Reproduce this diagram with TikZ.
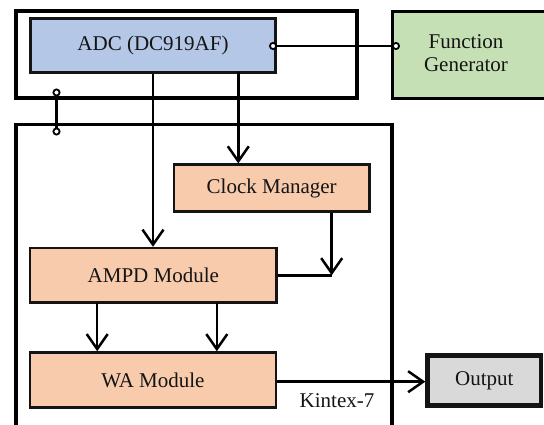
\documentclass[tikz,border=0pt]{standalone}
\usepackage{fontspec}
\setmainfont{Liberation Serif}
\usetikzlibrary{arrows.meta}

\definecolor{adcblue}{RGB}{180,199,231}
\definecolor{fggreen}{RGB}{197,224,180}
\definecolor{blockorange}{RGB}{248,203,173}
\definecolor{outgray}{RGB}{217,217,217}
\definecolor{inkcol}{RGB}{20,20,20}

\tikzset{
  frame/.style={draw=black, line width=3.8pt, rectangle, inner sep=0pt},
  block/.style={draw=inkcol, line width=2.5pt, rectangle, inner sep=0pt,
    font=\fontsize{21}{24}\selectfont, text=inkcol},
  wire/.style={draw=black, line width=2.5pt},
  arr/.style={wire, -{Straight Barb[length=15pt,width=21pt]}},
  ring/.style={Circle[length=8pt,width=8pt,fill=white,line width=1.8pt]},
  circ/.style={wire, {Circle[length=8pt,width=8pt,fill=white,line width=1.8pt]}-{Circle[length=8pt,width=8pt,fill=white,line width=1.8pt]}},
  lbl/.style={inner sep=0pt, font=\fontsize{21}{23.3}\selectfont, text=inkcol, align=center}
}

\begin{document}
\begin{tikzpicture}[x=1pt, y=-1pt]
  \clip (0,0) rectangle (544,425);
  \fill[white] (0,0) rectangle (544,425);

  % outer frames: ADC board and FPGA board
  \node[frame, minimum width=341pt, minimum height=87pt] (adcboard) at (186.8,54.8) {};
  \node[frame, minimum width=376pt, minimum height=316pt] (fpga) at (204,282.5) {};

  % function generator (runs past the right edge)
  \node[frame, line width=3.5pt, fill=fggreen, minimum width=167pt, minimum height=86.6pt] (fg) at (476.2,55) {};
  \node[lbl] (fgtext) at (466,53.5) {Function\\Generator};

  % functional blocks
  \node[block, fill=adcblue, minimum width=244.6pt, minimum height=53.8pt] (adc) at (153,45.6) {ADC (DC919AF)};
  \node[block, fill=blockorange, minimum width=195.3pt, minimum height=46.6pt] (clock) at (271.7,188) {Clock Manager};
  \node[block, fill=blockorange, minimum width=246.7pt, minimum height=54.5pt] (ampd) at (153.3,275.3) {AMPD Module};
  \node[block, fill=blockorange, minimum width=245.7pt, minimum height=54.8pt] (wa) at (152.9,379.9) {WA Module};
  \node[block, line width=4.5pt, fill=outgray, minimum width=113.5pt, minimum height=50pt] (out) at (484.3,380.5) {Output};

  \node[lbl, anchor=base] (kintex) at (337,407) {Kintex-7};

  % connection points
  \coordinate (adcclk) at (238.3,72.5);
  \coordinate (clkin) at (331.7,275.3);
  \coordinate (wa1) at (97.2,302.5);
  \coordinate (wa2) at (216.8,302.5);
  \coordinate (fgline) at (0,46);
  \coordinate (linktop) at (56.5,88.5);
  \coordinate (linkbot) at (56.5,135.5);

  % signal paths
  \draw[arr] (adc.south) -- (adc.south |- ampd.north);
  \draw[arr] (adcclk) -- (adcclk |- clock.north);
  \draw[wire] (ampd.east) -- (clkin);
  \draw[arr] (clock.south -| clkin) -- (clkin);
  \draw[arr] (wa1) -- (wa1 |- wa.north);
  \draw[arr] (wa2) -- (wa2 |- wa.north);
  \draw[arr] (wa.east |- 0,381.7) -- (out.west |- 0,381.7);

  % terminal links
  \draw[circ] ([xshift=-7.5pt]adc.east |- fgline) -- ([xshift=9pt]fg.west |- fgline);
  \draw[circ] (linktop) -- (linkbot);
\end{tikzpicture}
\end{document}
